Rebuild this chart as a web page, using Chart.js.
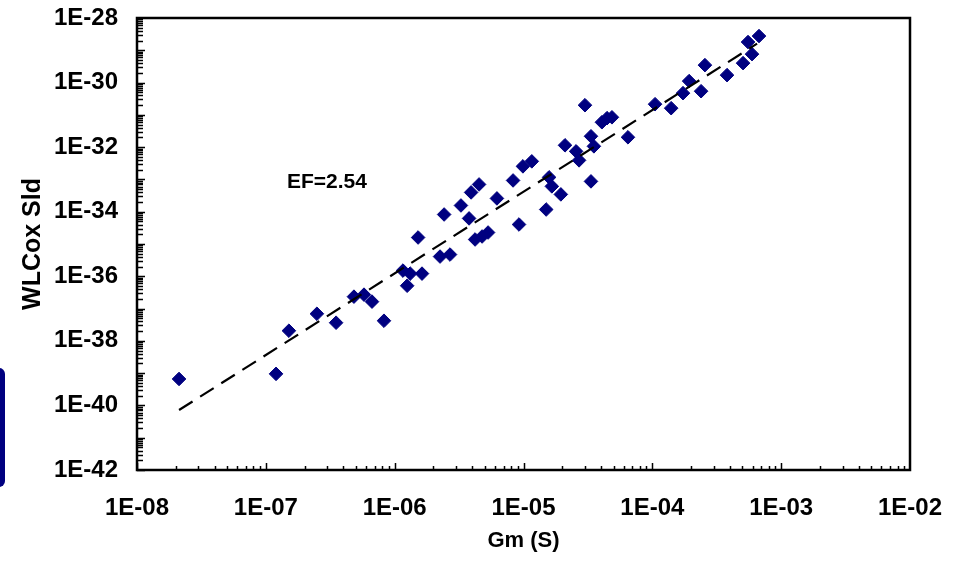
<!DOCTYPE html>
<html>
<head>
<meta charset="utf-8">
<script src="https://cdn.jsdelivr.net/npm/chart.js@4.4.0/dist/chart.umd.min.js"></script>
<style>
	html, body { margin: 0; padding: 0; background: #fff; }
	#wrap { position: relative; width: 959px; height: 562px; overflow: hidden; }
	#edgeTab { position: absolute; left: -10px; top: 368px; width: 15px; height: 119px; background: #000080; border-radius: 6px; }
</style>
</head>
<body>
<div id="wrap">
	<canvas id="efChart"></canvas>
	<div id="edgeTab"></div>
</div>
<script>
/* ---------- data ---------- */
const gmValues = [2.12e-8, 1.20e-7, 1.51e-7, 2.49e-7, 3.51e-7, 4.83e-7, 5.78e-7, 6.67e-7, 8.26e-7, 1.16e-6,
	1.25e-6, 1.32e-6, 1.52e-6, 1.63e-6, 2.25e-6, 2.42e-6, 2.69e-6, 3.27e-6, 3.78e-6, 3.92e-6,
	4.21e-6, 4.52e-6, 4.77e-6, 5.31e-6, 6.22e-6, 8.30e-6, 9.23e-6, 9.9e-6, 1.16e-5, 1.50e-5,
	1.58e-5, 1.66e-5, 1.95e-5, 2.10e-5, 2.56e-5, 2.70e-5, 3.00e-5, 3.34e-5, 3.34e-5, 3.52e-5,
	4.06e-5, 4.45e-5, 4.86e-5, 6.47e-5, 1.05e-4, 1.40e-4, 1.73e-4, 1.93e-4, 2.39e-4, 2.56e-4,
	3.80e-4, 5.06e-4, 5.53e-4, 5.94e-4, 6.73e-4];
const wlcoxValues = [6.6e-40, 9.5e-40, 2.06e-38, 6.9e-38, 3.65e-38, 2.34e-37, 2.70e-37, 1.64e-37, 4.2e-38, 1.50e-36,
	5.1e-37, 1.21e-36, 1.59e-35, 1.21e-36, 4.08e-36, 8.2e-35, 4.71e-36, 1.56e-34, 6.2e-35, 3.96e-34,
	1.38e-35, 7.0e-34, 1.71e-35, 2.27e-35, 2.58e-34, 9.3e-34, 4.02e-35, 2.54e-33, 3.63e-33, 1.17e-34,
	1.16e-33, 6.1e-34, 3.44e-34, 1.14e-32, 7.4e-33, 3.9e-33, 1.99e-31, 2.17e-32, 8.7e-34, 1.06e-32,
	5.9e-32, 7.9e-32, 8.4e-32, 2.02e-32, 2.14e-31, 1.61e-31, 4.7e-31, 1.11e-30, 5.4e-31, 3.47e-30,
	1.70e-30, 4.0e-30, 1.80e-29, 7.6e-30, 2.76e-29];

// power-law trend line (slope = EF)
const trendGm = [2.12e-8, 6.5e-4];
const trendWlcox = [7.2e-41, 1.6e-29];

// decade exponents for tick labels
const xTickExps = [-8, -7, -6, -5, -4, -3, -2];
const yTickExps = [-42, -40, -38, -36, -34, -32, -30, -28];

const efText = 'EF=2.54';
const efAt = { x: 1.46e-7, y: 8.1e-34 };

/* ---------- helpers ---------- */
Chart.defaults.font.family = "'Liberation Sans', Arial, sans-serif";
const tickFont = { size: 24, weight: 'bold' };

function expLabel(v) {
	const e = Math.round(Math.log10(v));
	return '1E' + (e < 0 ? '-' : '+') + String(Math.abs(e)).padStart(2, '0');
}

// fixed plot box, no auto padding from labels
function fixX(s) { s.height = 92; s.paddingLeft = 0; s.paddingRight = 0; }
function fixY(s) { s.width = 137; s.paddingTop = 0; s.paddingBottom = 0; }

// frame + inward log ticks, plus the EF note
const frameTicks = {
	id: 'frameTicks',
	afterDraw(chart) {
		const { ctx, chartArea: a, scales: { x, y } } = chart;
		ctx.save();
		ctx.strokeStyle = '#000';
		ctx.lineWidth = 1.5;
		ctx.beginPath();
		for (let e = -8; e < -2; e++) {
			for (let s = 1; s <= 9; s++) {
				const px = Math.round(x.getPixelForValue(s * Math.pow(10, e))) + 0.5;
				const len = s === 1 ? 7 : 4;
				ctx.moveTo(px, a.bottom); ctx.lineTo(px, a.bottom - len);
			}
		}
		for (let e = -42; e < -28; e++) {
			for (let s = 1; s <= 9; s++) {
				const py = Math.round(y.getPixelForValue(s * Math.pow(10, e))) + 0.5;
				const len = s === 1 ? 8 : 6;
				ctx.moveTo(a.left, py); ctx.lineTo(a.left + len, py);
			}
		}
		ctx.stroke();
		ctx.lineWidth = 2.5;
		ctx.strokeRect(a.left, a.top, a.right - a.left, a.bottom - a.top);

		ctx.fillStyle = '#000';
		ctx.font = "bold 21px 'Liberation Sans', Arial, sans-serif";
		ctx.textAlign = 'left';
		ctx.textBaseline = 'middle';
		ctx.fillText(efText, x.getPixelForValue(efAt.x), y.getPixelForValue(efAt.y));
		ctx.restore();
	}
};

/* ---------- chart ---------- */
window.addEventListener('DOMContentLoaded', function() {
	const points = gmValues.map((g, i) => ({ x: g, y: wlcoxValues[i] }));
	const trend = trendGm.map((g, i) => ({ x: g, y: trendWlcox[i] }));
	const ctx = document.getElementById('efChart').getContext('2d');

	new Chart(ctx, {
		type: 'scatter',
		data: {
			datasets: [
				{ data: trend, showLine: true, borderColor: '#000', borderWidth: 2.2, borderDash: [16, 9], pointRadius: 0, fill: false, order: 0 },
				{ data: points, pointStyle: 'rectRot', pointRadius: 6.8, backgroundColor: '#000080', borderColor: '#000080', borderWidth: 1, order: 1 }
			]
		},
		options: {
			responsive: true,
			maintainAspectRatio: false,
			animation: false,
			layout: { padding: { top: 18, right: 49, left: 0, bottom: 0 } },
			plugins: { legend: { display: false }, tooltip: { enabled: false } },
			scales: {
				x: {
					type: 'logarithmic', min: 1e-8, max: 1e-2,
					afterBuildTicks: s => { s.ticks = xTickExps.map(e => ({ value: Math.pow(10, e) })); },
					afterFit: fixX,
					grid: { display: false, drawTicks: false },
					border: { display: false },
					ticks: { autoSkip: false, maxRotation: 0, padding: 24, color: '#000', font: tickFont, callback: v => expLabel(v) },
					title: { display: true, text: 'Gm (S)', color: '#000', font: { size: 22, weight: 'bold' }, padding: { top: 0, bottom: 8 } }
				},
				y: {
					type: 'logarithmic', min: 1e-42, max: 1e-28,
					afterBuildTicks: s => { s.ticks = yTickExps.map(e => ({ value: Math.pow(10, e) })); },
					afterFit: fixY,
					grid: { display: false, drawTicks: false },
					border: { display: false },
					ticks: { autoSkip: false, padding: 19, color: '#000', font: tickFont, callback: v => expLabel(v) },
					title: { display: true, text: 'WLCox Sld', color: '#000', font: { size: 25, weight: 'bold' }, padding: { top: 18, bottom: 0 } }
				}
			}
		},
		plugins: [frameTicks]
	});
});
</script>
</body>
</html>
